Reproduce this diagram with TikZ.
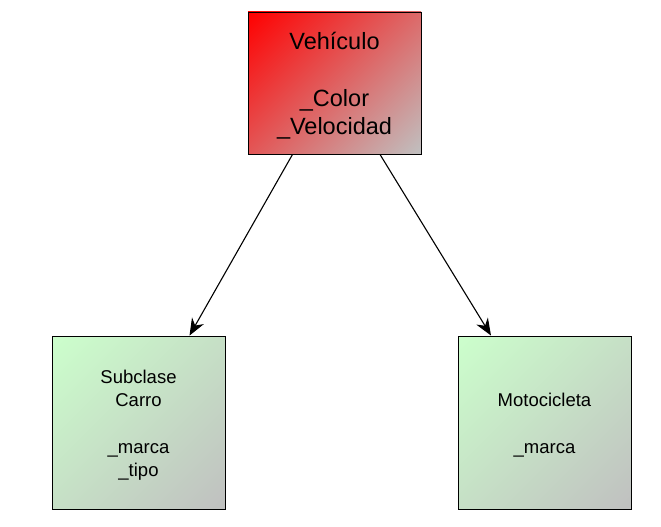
\documentclass[tikz,border=0pt]{standalone}
\usepackage{fontspec}
\setmainfont{Liberation Sans}
\usetikzlibrary{arrows.meta}
\definecolor{bigred}{RGB}{255,0,0}
\definecolor{endgray}{RGB}{192,192,192}
\definecolor{palegreen}{RGB}{204,255,204}
\pgfdeclareverticalshading{redgrad}{100bp}{color(0bp)=(endgray); color(14.64bp)=(endgray); color(85.36bp)=(bigred); color(100bp)=(bigred)}
\pgfdeclareverticalshading{greengrad}{100bp}{color(0bp)=(endgray); color(14.64bp)=(endgray); color(85.36bp)=(palegreen); color(100bp)=(palegreen)}
\tikzset{
  classbox/.style={draw=black, line width=0.9pt, rectangle, inner sep=0pt, align=center},
  redbox/.style={classbox, minimum width=173pt, minimum height=142pt, shading=redgrad, shading angle=45},
  greenbox/.style={classbox, minimum width=173pt, minimum height=173pt, shading=greengrad, shading angle=45},
  bigtext/.style={align=center, font=\fontsize{23.5}{27.6}\selectfont, inner sep=0pt, anchor=base},
  smalltext/.style={align=center, font=\fontsize{18.5}{23.3}\selectfont, inner sep=0pt, anchor=base},
  inherit/.style={draw=black, line width=1.1pt, -{Stealth[length=17pt, width=13.5pt, inset=5.5pt]}}
}
\begin{document}
\begin{tikzpicture}[x=1pt, y=-1pt]
\useasboundingbox (0,0) rectangle (661,527);
\node[redbox] (veh) at (334.5,83) {};
\node[bigtext] (vehtxt) at (334.5,134.3) {Vehículo\\[29.8pt]\_Color\\\_Velocidad};
\node[greenbox] (carro) at (138.5,422.5) {};
\node[smalltext] (carrotxt) at (138.5,476.7) {Subclase\\Carro\\[23.3pt]\_marca\\\_tipo};
\node[greenbox] (moto) at (544.5,422.5) {};
\node[smalltext] (mototxt) at (544.5,453.3) {Motocicleta\\[23.3pt]\_marca};
\draw[inherit] ([xshift=-42pt]veh.south) -- ([xshift=51pt]carro.north);
\draw[inherit] ([xshift=45.5pt]veh.south) -- ([xshift=-53.5pt]moto.north);
\end{tikzpicture}
\end{document}
